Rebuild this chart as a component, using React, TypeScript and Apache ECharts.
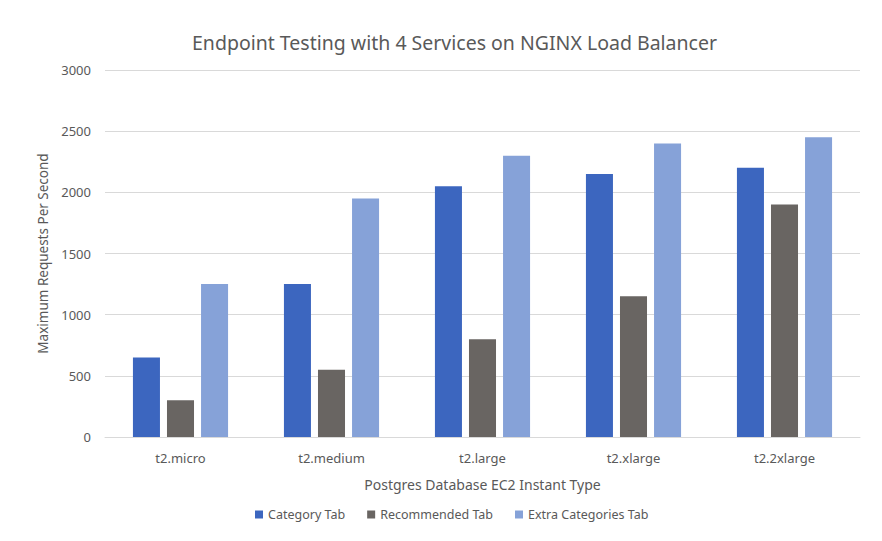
import React, { useEffect, useRef } from "react";
import * as echarts from "echarts";

const categories = ["t2.micro", "t2.medium", "t2.large", "t2.xlarge", "t2.2xlarge"];
const categoryTab = [650, 1250, 2050, 2150, 2200];
const recommendedTab = [300, 550, 800, 1150, 1900];
const extraCategoriesTab = [1250, 1950, 2300, 2400, 2450];
const seriesNames = ["Category Tab", "Recommended Tab", "Extra Categories Tab"];
const colors = ["#3C66BF", "#696562", "#86A2D8"];

const FONT = "Noto Sans";

export default function App() {
  const ref = useRef<HTMLDivElement>(null);
  useEffect(() => {
    if (!ref.current) return;
    const chart = echarts.init(ref.current, undefined, { renderer: "svg" });
    const mk = (name: string, data: number[], color: string) => ({
      name,
      type: "bar",
      data,
      itemStyle: { color },
      barGap: "26%",
      barCategoryGap: "37%",
    });
    chart.setOption({
      animation: false,
      backgroundColor: "#ffffff",
      textStyle: { fontFamily: FONT },
      title: {
        text: "Endpoint Testing with 4 Services on NGINX Load Balancer",
        left: 187,
        top: 27,
        textStyle: { fontFamily: FONT, fontSize: 19.5, fontWeight: "normal", color: "#595959" },
      },
      legend: {
        bottom: 15,
        left: 250,
        itemWidth: 8,
        itemHeight: 8,
        itemGap: 22,
        icon: "rect",
        textStyle: { fontFamily: FONT, fontSize: 12.5, color: "#595959" },
        data: seriesNames,
      },
      grid: { left: 105, right: 22, top: 70, bottom: 104, containLabel: false },
      xAxis: {
        type: "category",
        data: categories,
        name: "Postgres Database EC2 Instant Type",
        nameLocation: "middle",
        nameGap: 40,
        nameTextStyle: { fontFamily: FONT, fontSize: 14, color: "#595959" },
        axisLine: { lineStyle: { color: "#d9d9d9" } },
        axisTick: { show: false },
        axisLabel: { fontFamily: FONT, fontSize: 13, color: "#595959", margin: 14 },
      },
      yAxis: {
        type: "value",
        min: 0,
        max: 3000,
        interval: 500,
        name: "Maximum Requests Per Second",
        nameLocation: "middle",
        nameGap: 54,
        nameTextStyle: { fontFamily: FONT, fontSize: 13.5, color: "#595959" },
        axisLine: { show: false },
        axisTick: { show: false },
        splitLine: { lineStyle: { color: "#d9d9d9" } },
        axisLabel: {
          fontFamily: FONT,
          fontSize: 13,
          color: "#595959",
          margin: 14,
          formatter: (v: number) => String(v),
        },
      },
      series: [
        mk(seriesNames[0], categoryTab, colors[0]),
        mk(seriesNames[1], recommendedTab, colors[1]),
        mk(seriesNames[2], extraCategoriesTab, colors[2]),
      ],
    });
    return () => chart.dispose();
  }, []);
  return (
    <div
      ref={ref}
      style={{ position: "fixed", left: 0, top: 0, width: 882, height: 541, background: "#fff" }}
    />
  );
}
